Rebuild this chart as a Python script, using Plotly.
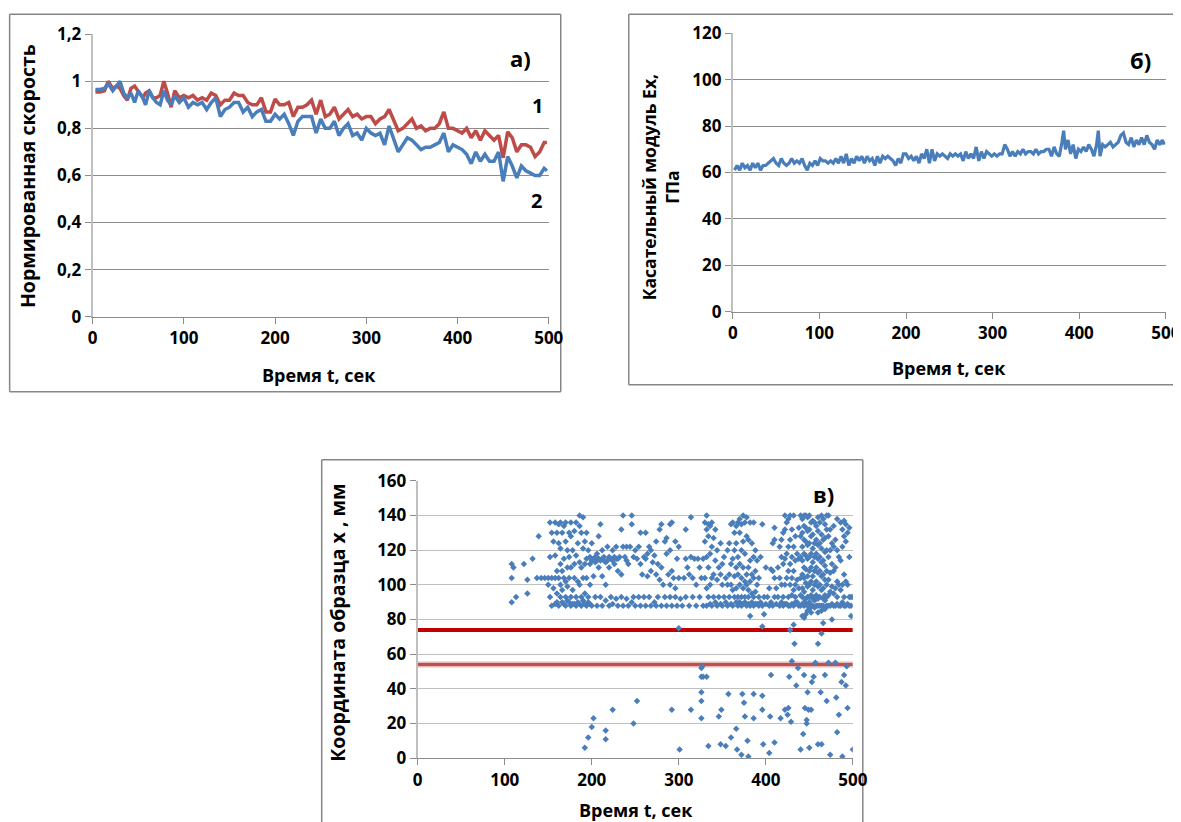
import plotly.graph_objects as go

# Layout is planned in target-image pixels; these constants map a target pixel
# to the figure pixel that lands there in the captured picture.
OFF = 8
SX, BX = 0.983, 4.5
SY, BY = 0.971, 12.0
W, H = 1190, 830

# ---------------- Panel a: normalized velocity ----------------
t_a = [3, 8, 13, 17, 22, 26, 30, 34, 38, 42, 46, 50, 55, 58, 62, 66, 70, 74, 78, 82,
       86, 90, 95, 100, 105, 110, 115, 120, 125, 130, 135, 140, 145, 150, 155, 160, 165, 170, 175, 180,
       185, 190, 195, 200, 205, 210, 215, 220, 225, 230, 235, 240, 245, 250, 255, 260, 265, 270, 275, 280,
       285, 290, 295, 300, 305, 310, 315, 320, 325, 330, 335, 340, 345, 350, 355, 360, 365, 370, 375, 380,
       385, 390, 395, 400, 405, 410, 415, 420, 425, 430, 435, 440, 445, 450, 455, 460, 465, 470, 475, 480,
       485, 490, 495, 498]
v1 = [0.955, 0.955, 0.96, 1.0, 0.97, 0.98, 0.97, 0.94, 0.92, 0.97, 0.98, 0.96, 0.93, 0.95, 0.96, 0.93, 0.93, 0.94, 1.0, 0.95,
      0.89, 0.96, 0.93, 0.94, 0.93, 0.94, 0.92, 0.93, 0.92, 0.95, 0.94, 0.90, 0.92, 0.92, 0.95, 0.94, 0.94, 0.91, 0.90, 0.90,
      0.93, 0.87, 0.87, 0.925, 0.90, 0.90, 0.91, 0.85, 0.89, 0.89, 0.90, 0.92, 0.86, 0.92, 0.85, 0.86, 0.89, 0.84, 0.86, 0.88,
      0.85, 0.86, 0.84, 0.85, 0.85, 0.82, 0.84, 0.85, 0.88, 0.83, 0.79, 0.80, 0.82, 0.84, 0.80, 0.81, 0.79, 0.80, 0.80, 0.82,
      0.87, 0.80, 0.80, 0.79, 0.78, 0.80, 0.76, 0.79, 0.75, 0.79, 0.77, 0.75, 0.77, 0.675, 0.785, 0.76, 0.70, 0.73, 0.73, 0.72,
      0.68, 0.70, 0.74, 0.74]
v2 = [0.965, 0.965, 0.97, 0.99, 0.96, 0.98, 1.0, 0.95, 0.93, 0.95, 0.91, 0.96, 0.93, 0.90, 0.96, 0.93, 0.91, 0.90, 0.96, 0.92,
      0.90, 0.94, 0.91, 0.93, 0.89, 0.91, 0.90, 0.91, 0.88, 0.91, 0.93, 0.85, 0.88, 0.89, 0.91, 0.91, 0.87, 0.89, 0.85, 0.87,
      0.88, 0.83, 0.83, 0.86, 0.84, 0.86, 0.82, 0.77, 0.83, 0.85, 0.85, 0.85, 0.78, 0.84, 0.80, 0.80, 0.83, 0.77, 0.80, 0.82,
      0.77, 0.78, 0.75, 0.80, 0.78, 0.77, 0.78, 0.73, 0.81, 0.75, 0.70, 0.73, 0.76, 0.75, 0.73, 0.71, 0.72, 0.72, 0.73, 0.74,
      0.78, 0.70, 0.73, 0.72, 0.71, 0.69, 0.65, 0.70, 0.66, 0.69, 0.66, 0.66, 0.70, 0.575, 0.68, 0.64, 0.59, 0.64, 0.62, 0.61,
      0.60, 0.60, 0.63, 0.62]

# ---------------- Panel б: tangent modulus ----------------
t_b = [2, 5, 8, 11, 14, 17, 20, 23, 26, 29, 32, 35, 38, 41, 44, 47, 50, 53, 56, 59,
       62, 65, 68, 71, 74, 77, 80, 83, 86, 89, 92, 95, 98, 101, 104, 107, 110, 113, 116, 119,
       122, 125, 128, 131, 134, 137, 140, 143, 146, 149, 152, 155, 158, 161, 164, 167, 170, 173, 176, 179,
       182, 185, 188, 191, 194, 197, 200, 203, 206, 209, 212, 215, 218, 221, 224, 227, 230, 233, 236, 239,
       242, 245, 248, 251, 254, 257, 260, 263, 266, 269, 272, 275, 278, 281, 284, 287, 290, 293, 296, 299,
       302, 305, 308, 311, 314, 317, 320, 323, 326, 329, 332, 335, 338, 341, 344, 347, 350, 353, 356, 359,
       362, 365, 368, 371, 374, 377, 380, 382, 384, 387, 390, 393, 396, 399, 402, 405, 408, 411, 414, 417,
       420, 422, 424, 427, 430, 433, 436, 439, 442, 445, 448, 451, 454, 457, 460, 463, 466, 469, 472, 475,
       478, 481, 484, 487, 490, 493, 496, 498]
ex = [61, 63, 61, 64, 62, 63, 61, 64, 62, 64, 61, 63, 63, 64, 65, 66, 64, 63, 66, 64,
      63, 64, 66, 64, 65, 64, 66, 63, 61, 64, 63, 65, 63, 66, 65, 65, 64, 65, 64, 66,
      64, 67, 64, 68, 63, 66, 64, 67, 65, 67, 64, 67, 65, 66, 63, 67, 64, 67, 66, 67,
      66, 65, 63, 66, 64, 68, 68, 66, 67, 65, 67, 64, 68, 66, 70, 64, 70, 65, 68, 67,
      68, 67, 66, 68, 67, 68, 67, 68, 65, 69, 66, 68, 66, 71, 65, 69, 66, 69, 68, 67,
      68, 67, 68, 68, 72, 70, 67, 69, 67, 69, 68, 70, 68, 69, 69, 68, 70, 68, 69, 69,
      70, 70, 67, 71, 68, 67, 73, 78, 70, 74, 68, 72, 66, 70, 69, 71, 69, 72, 70, 67,
      72, 78, 67, 72, 71, 72, 73, 71, 72, 73, 76, 77, 73, 72, 75, 71, 74, 72, 75, 72,
      76, 73, 72, 70, 74, 72, 74, 72]

# ---------------- Panel в: acoustic emission source coordinates ----------------
col_t = [108, 110, 113, 122, 126, 132, 137, 139, 142, 146, 150, 152, 154, 156, 158, 160, 162, 164, 166, 168,
         170, 172, 174, 176, 178, 180, 182, 184, 186, 188, 190, 192, 194, 196, 198, 200, 202, 204, 206, 208,
         210, 212, 214, 216, 218, 220, 222, 224, 226, 228, 230, 232, 234, 236, 238, 240, 242, 244, 246, 248,
         250, 252, 254, 256, 258, 260, 262, 264, 266, 268, 270, 272, 274, 276, 278, 280, 282, 284, 286, 288,
         290, 292, 294, 296, 298, 300, 302, 304, 306, 308, 310, 312, 314, 316, 318, 320, 322, 324, 326, 328,
         330, 332, 334, 336, 338, 340, 342, 344, 346, 348, 350, 352, 354, 356, 358, 360, 362, 364, 366, 368,
         370, 372, 374, 376, 378, 380, 382, 384, 386, 388, 390, 392, 394, 396, 398, 400, 402, 404, 406, 408,
         410, 412, 414, 416, 418, 420, 422, 424, 426, 428, 430, 432, 434, 436, 438, 440, 442, 444, 446, 448,
         450, 452, 454, 456, 458, 460, 462, 464, 466, 468, 470, 472, 474, 476, 478, 480, 482, 484, 486, 488,
         490, 492, 494, 496, 498, 500]
col_x = [
    [90, 104, 112], [110], [93], [112], [95, 103], [115], [104], [128], [104], [104],
    [100, 104], [93, 116, 136], [88, 104, 130], [98, 125], [89, 104, 117, 136], [90, 95, 108, 130],
    [88, 104, 124, 135], [93, 100, 112, 121, 136], [90, 97, 108, 130], [89, 104, 115, 134],
    [88, 93, 102, 125, 136], [91, 99, 110, 120], [90, 104, 116, 130], [88, 93, 110, 128, 136],
    [89, 97, 120], [89, 104, 112, 131], [88, 93, 117, 136], [90, 102, 124],
    [89, 100, 113, 134, 140], [88, 93, 110, 130], [91, 104, 121, 139], [89, 95, 112, 125],
    [88, 104, 115, 130], [90, 93, 120], [89, 100, 112, 116],
    # 200 .. 330
    [88, 114, 124], [105, 115], [93, 113, 116], [88, 114, 118], [110, 115, 128],
    [93, 114, 135], [88, 105, 115, 120], [114, 116], [91, 100, 113], [114, 122],
    [88, 110, 116], [93, 115], [89, 114, 120], [112, 116], [92, 115, 122],
    [88, 108, 115], [116], [93, 106, 132], [88, 122, 140], [116],
    [92, 114, 122], [88, 112], [122], [90, 135, 140], [93, 116],
    [88, 120], [115], [93, 122], [88, 112, 130], [106],
    [93, 116], [88, 115, 130], [105, 118], [93, 122], [88, 108, 120],
    [113], [90, 117], [88, 106, 125], [93, 112], [103, 132],
    [88, 110, 135], [100], [93, 125], [88, 118, 127], [106],
    [93, 100, 120, 135], [88, 108, 136], [104], [93, 98, 125], [88, 115],
    [104, 122, 75], [92], [88], [104], [93, 115, 132],
    [110], [88, 106], [116, 139], [93, 104], [115],
    [88, 100], [115], [93, 110], [104], [88, 115],
    [104, 125, 136],
    # 332 ..
    [88, 98, 116, 132, 140], [93, 110, 128, 135], [89, 100, 118, 134],
    [88, 104, 122, 136], [93, 106, 127], [90, 114, 132], [88, 103, 120], [93, 110],
    [89, 106, 124], [88, 100, 112], [93, 116], [90, 104], [88, 100, 120], [93, 106, 124],
    [89, 100, 112, 135], [88, 97, 115, 136], [93, 105, 120, 130], [90, 98, 110, 124, 134],
    [88, 93, 106, 116, 136], [90, 100, 112, 130, 138], [88, 93, 104, 120, 135],
    [89, 98, 110, 125, 140], [90, 93, 102, 118, 136], [88, 100, 106, 128, 139],
    [89, 93, 97, 110, 126], [82, 88, 102, 114, 136], [90, 95, 106, 124], [88, 93, 104, 116, 136],
    [89, 96, 108, 120], [89, 100, 114], [88, 93, 104], [90, 116], [76, 88, 135], [83, 93],
    [89, 110], [93], [88, 98], [90, 109], [88, 108, 124],
    [93, 104, 126, 133], [89, 98], [93, 110], [88, 104, 122], [90, 100, 116, 126],
    [88, 93, 112, 130], [89, 100, 115, 132, 140], [89, 104, 118, 136], [88, 93, 108, 122, 138],
    [74, 88, 100, 112, 126, 140], [89, 94, 104, 116, 132], [77, 88, 97, 108, 122, 140],
    [90, 93, 100, 114, 128], [90, 103, 118], [88, 98, 115, 133], [88, 94, 104, 116, 128, 140],
    [82, 89, 93, 98, 106, 114, 122, 130, 138], [81, 88, 90, 96, 104, 110, 118, 126, 134, 140],
    [83, 89, 92, 101, 109, 117, 125, 133, 140], [85, 88, 93, 99, 105, 115, 123, 131, 139],
    [86, 90, 93, 100, 108, 116, 124, 132, 140], [84, 88, 94, 102, 110, 118, 128, 136],
    [88, 92, 97, 105, 113, 121, 129, 137], [87, 91, 93, 100, 108, 116, 124, 136],
    [88, 94, 102, 110, 118, 126, 134], [84, 88, 92, 99, 107, 115, 123, 131, 139],
    [88, 93, 100, 108, 116, 124, 136], [72, 85, 88, 97, 105, 113, 121, 129, 140],
    [78, 88, 92, 98, 106, 114, 126, 138], [86, 91, 94, 103, 111, 119, 127, 135],
    [88, 93, 100, 108, 120, 132, 140], [88, 94, 103, 116, 128, 140], [88, 96, 107, 120, 132],
    [80, 89, 99, 112, 124], [88, 95, 108, 122, 134], [88, 98, 110, 126], [89, 93, 102, 120, 138],
    [88, 100, 116], [88, 97, 114, 136], [90, 100, 122, 132],
    [88, 93, 106, 128, 137], [88, 102, 125, 135], [89, 100, 130], [88, 93, 116, 133], [82, 88, 93], [93],
]
low_t = [192, 196, 200, 202, 216, 216, 224, 248, 252, 292, 301, 314, 326, 327, 326, 328, 326, 326, 326, 332,
         334, 346, 348, 349, 354, 357, 360, 366, 367, 372, 373, 375, 376, 379, 380, 386, 386, 396, 396, 397,
         404, 405, 406, 410, 417, 422, 425, 426, 427, 429, 430, 433, 435, 437, 440, 443, 444, 445, 447, 447,
         448, 449, 450, 452, 453, 455, 457, 460, 460, 464, 463, 468, 470, 472, 474, 480, 481, 482, 484, 487,
         488, 490, 492, 493, 494, 500]
low_x = [6, 12, 18, 23, 16, 11, 28, 20, 33, 28, 5, 28, 52, 53, 47, 47, 38, 33, 23, 47,
         7, 24, 8, 28, 7, 37, 12, 17, 5, 2, 37, 32, 24, 10, 1, 37, 23, 36, 28, 8,
         3, 24, 48, 9, 23, 28, 25, 29, 47, 21, 56, 66, 42, 52, 5, 14, 48, 29, 20, 22,
         38, 28, 6, 28, 44, 47, 55, 66, 8, 8, 38, 48, 33, 55, 2, 55, 35, 15, 25, 44,
         1, 48, 42, 53, 29, 5]
zone_t = [0, 500]
zone_upper = [74, 74]
zone_lower = [54, 54]

# flatten scatter columns
sc_t, sc_x = [], []
for t, xs in zip(col_t, col_x):
    for v in xs:
        sc_t.append(t)
        sc_x.append(v)
sc_t += low_t
sc_x += low_x

BLUE = "#4A7EBB"
RED = "#BE4B48"
FONT = "Open Sans"
GRID = "#8C8C8C"


def PX(x):
    return ((x - BX) / SX - OFF) / W


def PY(y):
    return 1 - ((y - BY) / SY - OFF) / H


fig = go.Figure()
fig.add_trace(go.Scatter(x=t_a, y=v1, mode="lines", line=dict(color=RED, width=3.5), xaxis="x", yaxis="y"))
fig.add_trace(go.Scatter(x=t_a, y=v2, mode="lines", line=dict(color=BLUE, width=3.5), xaxis="x", yaxis="y"))
fig.add_trace(go.Scatter(x=t_b, y=ex, mode="lines", line=dict(color=BLUE, width=3.2), xaxis="x2", yaxis="y2"))
fig.add_trace(go.Scatter(x=zone_t, y=zone_upper, mode="lines", line=dict(color="#C00000", width=4),
                         xaxis="x3", yaxis="y3"))
fig.add_trace(go.Scatter(x=zone_t, y=zone_lower, mode="lines", line=dict(color="#E6B9B8", width=6),
                         xaxis="x3", yaxis="y3"))
fig.add_trace(go.Scatter(x=zone_t, y=zone_lower, mode="lines", line=dict(color="#C0504D", width=3),
                         xaxis="x3", yaxis="y3"))
fig.add_trace(go.Scatter(x=sc_t, y=sc_x, mode="markers",
                         marker=dict(symbol="diamond", size=5, color=BLUE, line=dict(width=0)),
                         xaxis="x3", yaxis="y3"))

tickfont = dict(family=FONT, size=17, color="black", weight="bold")


def xax(dom, anchor):
    return dict(domain=dom, anchor=anchor, range=[0, 500], dtick=100, tick0=0,
                showgrid=False, zeroline=False, showline=True, linecolor=GRID, linewidth=1,
                ticks="outside", ticklen=6, tickcolor=GRID, tickfont=tickfont, fixedrange=True)


def yax(dom, anchor, rng, dtick, gridc, linec):
    return dict(domain=dom, anchor=anchor, range=rng, dtick=dtick, tick0=0,
                showgrid=True, gridcolor=gridc, gridwidth=1, zeroline=False,
                showline=True, linecolor=linec, linewidth=2,
                ticks="outside", ticklen=6, tickcolor=GRID, tickfont=tickfont, fixedrange=True)


fig.update_layout(
    width=W, height=H, autosize=False,
    margin=dict(l=0, r=0, t=0, b=0),
    paper_bgcolor="white", plot_bgcolor="white",
    showlegend=False,
    separators=", ",
    font=dict(family=FONT, color="black"),
    xaxis=xax([PX(92), PX(548)], "y"),
    yaxis=yax([PY(316), PY(34)], "x", [0, 1.2], 0.2, GRID, "#BFBFBF"),
    xaxis2=xax([PX(732), PX(1165)], "y2"),
    yaxis2=yax([PY(311), PY(33)], "x2", [0, 120], 20, GRID, "#BFBFBF"),
    xaxis3=xax([PX(417), PX(852)], "y3"),
    yaxis3=yax([PY(757), PY(480)], "x3", [0, 160], 20, "#BFBFBF", "#BFBFBF"),
)

# panel borders (only the sides that show in the picture)
border_segments = [
    (9, 14, 560, 14), (9, 14, 9, 391), (9, 391, 560, 391), (560, 14, 560, 391),   # a
    (628, 14, 1181, 14), (628, 14, 628, 384), (628, 384, 1181, 384),               # б
    (321, 459, 862, 459), (321, 459, 321, 822), (862, 459, 862, 822),              # в
]
for (x0, y0, x1, y1) in border_segments:
    fig.add_shape(type="line", xref="paper", yref="paper", x0=PX(x0), x1=PX(x1), y0=PY(y0), y1=PY(y1),
                  line=dict(color="#868686", width=1.5), layer="below")

xtfont = dict(family=FONT, size=18, color="black", weight="bold")
ytfont = dict(family=FONT, size=19.5, color="black", weight="bold")
ytfont_b = dict(family=FONT, size=17.5, color="black", weight="bold")
labfont = dict(family=FONT, size=20, color="black", weight="bold")
bigfont = dict(family=FONT, size=22, color="black", weight="bold")
ann = [
    dict(text="Время t, сек", x=PX(318), y=PY(374), font=xtfont),
    dict(text="Время t, сек", x=PX(948), y=PY(367), font=xtfont),
    dict(text="Время t, сек", x=PX(635), y=PY(809), font=xtfont),
    dict(text="Нормированная скорость", x=PX(27), y=PY(176), font=ytfont, textangle=-90),
    dict(text="Касательный модуль Ex,<br>ГПа", x=PX(660), y=PY(187), font=ytfont_b, textangle=-90),
    dict(text="Координата образца x , мм", x=PX(336), y=PY(622), font=ytfont, textangle=-90),
    dict(text="а)", x=PX(520), y=PY(58), font=bigfont),
    dict(text="1", x=PX(537), y=PY(105), font=labfont),
    dict(text="2", x=PX(536), y=PY(200), font=labfont),
    dict(text="б)", x=PX(1140), y=PY(60), font=bigfont),
    dict(text="в)", x=PX(823), y=PY(493), font=bigfont),
]
for a in ann:
    fig.add_annotation(xref="paper", yref="paper", showarrow=False, xanchor="center", yanchor="middle", **a)

fig.write_html("out.html")
